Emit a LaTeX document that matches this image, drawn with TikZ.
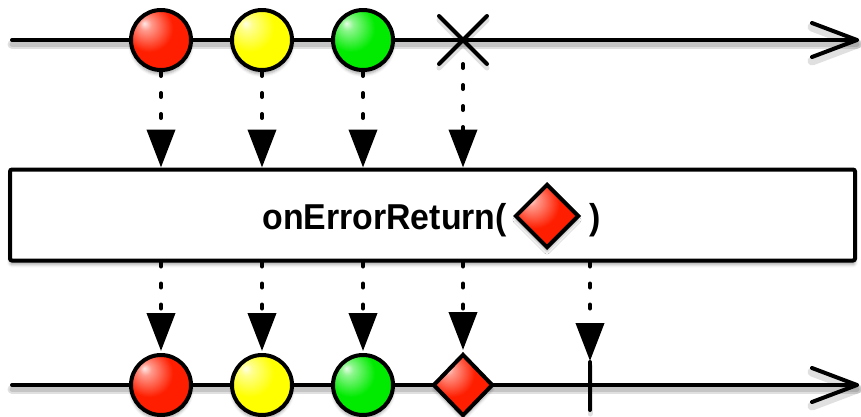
\documentclass[tikz,border=0pt]{standalone}
\usepackage{fontspec}
\usepackage{graphicx}
\setmainfont{Liberation Sans}
\usetikzlibrary{arrows.meta,shapes.geometric,shadows.blur}

\definecolor{cred}{RGB}{255,30,0}
\definecolor{cyel}{RGB}{255,255,0}
\definecolor{cgrn}{RGB}{0,235,0}
\colorlet{ballc}{cred}
\pgfdeclareradialshading[ballc]{sball}{\pgfpoint{-14bp}{14bp}}{%
  color(0bp)=(white!90!ballc); color(5bp)=(white!55!ballc); color(20bp)=(ballc);
  color(42bp)=(ballc); color(60bp)=(ballc!78!black); color(70bp)=(ballc!60!black)}

\tikzset{
  softshadow/.style={blur shadow={shadow xshift=0pt, shadow yshift=-4pt, shadow blur radius=3pt, shadow opacity=35}},
  ballnode/.style={circle, minimum size=60pt, inner sep=0pt, draw=black, line width=4pt,
    /utils/exec={\colorlet{ballc}{#1}}, shading=sball, softshadow},
  diamnode/.style={diamond, inner sep=0pt, draw=black, line width=4pt, line join=miter,
    /utils/exec={\colorlet{ballc}{#1}}, shading=sball, softshadow},
  timeline/.style={draw=black, line width=4pt, line cap=round, line join=round},
  lshadow/.style={draw=black, opacity=0.12, line width=9pt, line cap=round, transform canvas={yshift=-4pt}},
  lshadowb/.style={draw=black, opacity=0.12, line width=5pt, line cap=round, transform canvas={yshift=-4pt}},
  conn/.style={draw=black, line width=4pt, line cap=round, dash pattern=on 4pt off 17pt,
    -{Triangle[width=28pt,length=38pt]}},
  opbox/.style={rectangle, draw=black, fill=white, line width=4pt, rounded corners=2pt, softshadow},
  optext/.style={inner sep=0pt, font=\fontsize{36}{40}\selectfont\bfseries}
}

\begin{document}
\begin{tikzpicture}[x=1pt, y=-1pt]
\useasboundingbox (0,0) rectangle (861,416);
\clip (0,0) rectangle (861,416);

% ---- top timeline ----
\coordinate (t0) at (12,40);
\coordinate (t1) at (857,40);
\coordinate (t1a) at (812,23);
\coordinate (t1b) at (812,57);
\draw[lshadow] (t0) -- (t1);
\draw[lshadowb] (t0) -- (t1);
\draw[lshadow] (t1a) -- (t1) -- (t1b);
\draw[timeline] (t0) -- (t1);
\draw[timeline] (t1a) -- (t1) -- (t1b);

% error mark
\coordinate (x1) at (463,40);
\coordinate (x1a) at (439,16);
\coordinate (x1b) at (487,64);
\coordinate (x1c) at (439,64);
\coordinate (x1d) at (487,16);
\draw[lshadowb] (x1a) -- (x1b) (x1c) -- (x1d);
\draw[timeline] (x1a) -- (x1b) (x1c) -- (x1d);

% ---- operator box ----
\node[opbox, minimum width=845pt, minimum height=91pt] (box) at (432.5,215) {};

% ---- connectors top ----
\node[ballnode=cred] (r1) at (161,40) {};
\node[ballnode=cyel] (y1) at (262,40) {};
\node[ballnode=cgrn] (g1) at (363,40) {};
\coordinate (x1s) at (463,64);

\draw[conn] (r1.south) -- (r1.south |- box.north);
\draw[conn] (y1.south) -- (y1.south |- box.north);
\draw[conn] (g1.south) -- (g1.south |- box.north);
\draw[conn] (x1s) -- (x1s |- box.north);

% ---- operator label ----
\node[optext, anchor=base east] (lbl) at (507,229) {\scalebox{0.94}[1]{onErrorReturn(}};
\node[diamnode=cred, minimum width=64pt, minimum height=64pt] (dm) at (547,216) {};
\node[optext, anchor=base west] (rp) at (589,229) {\scalebox{0.94}[1]{)}};

% ---- bottom timeline ----
\coordinate (b0) at (12,385);
\coordinate (b1) at (857,385);
\coordinate (b1a) at (812,368);
\coordinate (b1b) at (812,402);
\draw[lshadow] (b0) -- (b1);
\draw[lshadowb] (b0) -- (b1);
\draw[lshadow] (b1a) -- (b1) -- (b1b);
\draw[timeline] (b0) -- (b1);
\draw[timeline] (b1a) -- (b1) -- (b1b);

% completion tick
\coordinate (tka) at (590,362);
\coordinate (tkb) at (590,410);
\coordinate (tkt) at (590,361);
\draw[lshadowb] (tka) -- (tkb);
\draw[timeline] (tka) -- (tkb);

\node[ballnode=cred] (r2) at (161,385) {};
\node[ballnode=cyel] (y2) at (262,385) {};
\node[ballnode=cgrn] (g2) at (363,385) {};
\node[diamnode=cred, minimum width=60pt, minimum height=62pt] (d2) at (463,385) {};

\draw[conn, shorten >=2pt] (box.south -| r2.north) -- (r2.north);
\draw[conn, shorten >=2pt] (box.south -| y2.north) -- (y2.north);
\draw[conn, shorten >=2pt] (box.south -| g2.north) -- (g2.north);
\draw[conn, shorten >=2pt] (box.south -| d2.north) -- (d2.north);
\draw[conn] (box.south -| tkt) -- (tkt);
\end{tikzpicture}
\end{document}
